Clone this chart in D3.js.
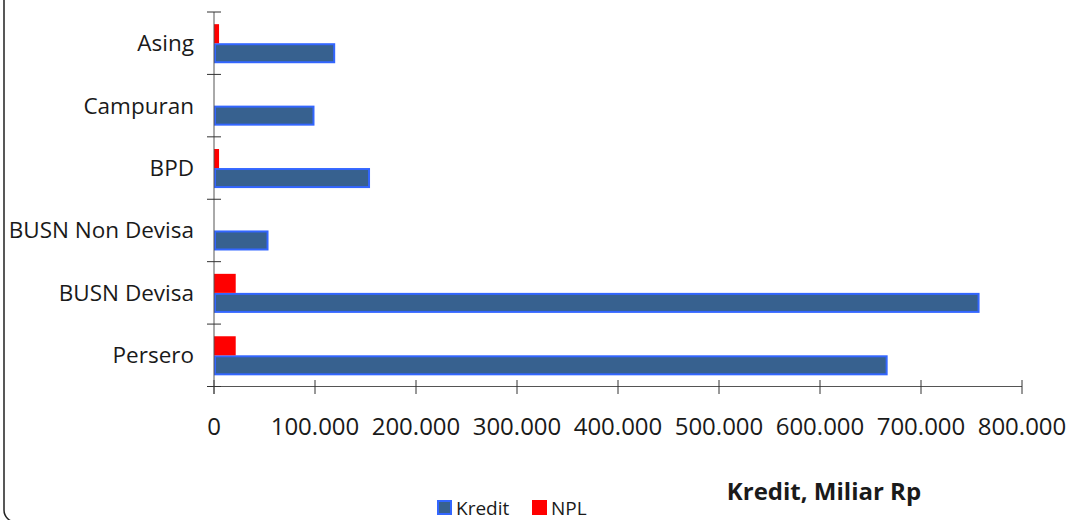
<!DOCTYPE html>
<html>
<head>
<meta charset="utf-8">
<script src="https://cdn.jsdelivr.net/npm/d3@7"></script>
<style>
    body { margin: 0; background: #fff; }
    text { font-family: "Open Sans", sans-serif; fill: #1a1a1a; }
</style>
</head>
<body>
<div id="chart"></div>
<script>
// Chart data
const categories = ["Asing", "Campuran", "BPD", "BUSN Non Devisa", "BUSN Devisa", "Persero"];
const kredit = [119000, 98500, 153500, 53000, 757000, 666000];
const npl = [5000, 0, 5000, 0, 21500, 21500];
const seriesNames = ["Kredit", "NPL"];
const xTicks = [0, 100000, 200000, 300000, 400000, 500000, 600000, 700000, 800000];

const width = 1074;
const height = 520;

const svg = d3.select("#chart")
    .append("svg")
    .attr("width", width)
    .attr("height", height);

// Outer frame (only left side and rounded bottom corner are visible)
svg.append("rect")
    .attr("x", 4)
    .attr("y", -20)
    .attr("width", 1200)
    .attr("height", 542)
    .attr("rx", 12)
    .style("fill", "none")
    .style("stroke", "#222")
    .style("stroke-width", 1.5);

// Scales
const x = d3.scaleLinear()
    .domain([0, 800000])
    .range([214, 1022]);

const y = d3.scaleBand()
    .domain(categories)
    .range([12, 386.5])
    .padding(0);

// NPL sits above Kredit inside each band
const ySub = d3.scaleBand()
    .domain(["NPL", "Kredit"])
    .range([0, y.bandwidth()])
    .paddingInner(0)
    .paddingOuter(0.64);

// Kredit bars
svg.selectAll(".kredit")
    .data(categories)
    .enter()
    .append("rect")
    .attr("class", "kredit")
    .attr("x", x(0) + 1)
    .attr("y", (d, i) => y(d) + ySub("Kredit") + 1)
    .attr("width", (d, i) => x(kredit[i]) - x(0) - 1)
    .attr("height", ySub.bandwidth() - 1)
    .style("fill", "#37618f")
    .style("stroke", "#3366ff")
    .style("stroke-width", 2);

// NPL bars
svg.selectAll(".npl")
    .data(categories)
    .enter()
    .append("rect")
    .attr("class", "npl")
    .attr("x", x(0))
    .attr("y", (d, i) => y(d) + ySub("NPL"))
    .attr("width", (d, i) => Math.max(0, x(npl[i]) - x(0)))
    .attr("height", ySub.bandwidth())
    .style("fill", "#ff0000");

// X axis
const xAxis = svg.append("g")
    .attr("transform", "translate(0,386.5)")
    .call(d3.axisBottom(x).tickValues(xTicks).tickSize(0).tickFormat(""));
xAxis.select(".domain").attr("d", "M207,0H" + x(800000)).style("stroke", "#555");

svg.selectAll(".xtick")
    .data(xTicks)
    .enter()
    .append("line")
    .attr("x1", d => x(d))
    .attr("x2", d => x(d))
    .attr("y1", 380)
    .attr("y2", 394)
    .style("stroke", "#333");

svg.selectAll(".xlabel")
    .data(xTicks)
    .enter()
    .append("text")
    .attr("x", d => x(d))
    .attr("y", 435)
    .attr("text-anchor", "middle")
    .style("font-size", "24px")
    .text(d => d === 0 ? "0" : d3.format(",")(d).replace(/,/g, "."));

// Y axis
svg.append("line")
    .attr("x1", x(0))
    .attr("x2", x(0))
    .attr("y1", 12)
    .attr("y2", 394)
    .style("stroke", "#555");

const yBounds = categories.map(d => y(d)).concat([y.range()[1]]);
svg.selectAll(".ytick")
    .data(yBounds)
    .enter()
    .append("line")
    .attr("x1", 207)
    .attr("x2", 221)
    .attr("y1", d => d)
    .attr("y2", d => d)
    .style("stroke", "#333");

svg.selectAll(".ylabel")
    .data(categories)
    .enter()
    .append("text")
    .attr("x", 194)
    .attr("y", d => y(d) + y.bandwidth() / 2)
    .attr("dy", "0.35em")
    .attr("text-anchor", "end")
    .style("font-size", "22.5px")
    .text(d => d);

// Axis title
svg.append("text")
    .attr("x", 824)
    .attr("y", 500)
    .attr("text-anchor", "middle")
    .style("font-size", "24px")
    .style("font-weight", "bold")
    .text("Kredit, Miliar Rp");

// Legend
const legendX = [437, 532];
const legend = svg.selectAll(".key")
    .data(seriesNames)
    .enter()
    .append("g")
    .attr("transform", (d, i) => "translate(" + legendX[i] + ",500)");

legend.append("rect")
    .attr("x", (d, i) => i === 0 ? 1 : 0)
    .attr("y", (d, i) => i === 0 ? 1 : 0)
    .attr("width", (d, i) => i === 0 ? 13 : 15)
    .attr("height", (d, i) => i === 0 ? 13 : 15)
    .style("fill", (d, i) => i === 0 ? "#37618f" : "#ff0000")
    .style("stroke", (d, i) => i === 0 ? "#3366ff" : "none")
    .style("stroke-width", 2);

legend.append("text")
    .attr("x", 19)
    .attr("y", 15)
    .style("font-size", "19px")
    .text(d => d);
</script>
</body>
</html>
